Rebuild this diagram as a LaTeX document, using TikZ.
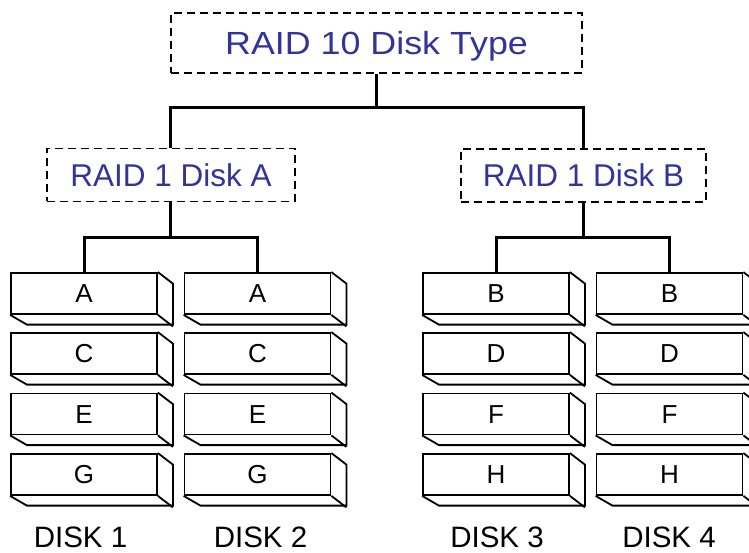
\documentclass[tikz,border=0pt]{standalone}
\usepackage{fontspec}
\setmainfont{Liberation Sans}
\definecolor{raidblue}{RGB}{51,51,153}
\begin{document}
\begin{tikzpicture}[x=1pt,y=-1pt,
  dashbox/.style={draw, dash pattern=on 8pt off 5pt, line width=1.7pt, inner sep=0pt,
    text=raidblue, text depth=0pt},
  front/.style={draw, line width=1.8pt, inner sep=0pt, minimum width=146pt, minimum height=41pt,
    font=\fontsize{26}{30}\selectfont, text height=18.6pt, text depth=0pt},
  side/.style={line width=1.8pt, line join=miter},
  link/.style={line width=3pt},
  disklabel/.style={inner sep=0pt, font=\fontsize{29.5}{34}\selectfont, text height=21.1pt, text depth=0pt}
]
\useasboundingbox (0,0) rectangle (749,553);

% top and middle boxes
\node[dashbox, minimum width=411pt, minimum height=60pt, font=\fontsize{32}{40}\selectfont, text height=22.9pt] (top) at (376.5,43) {\scalebox{1.12}[1]{RAID 10 Disk Type}};
\node[dashbox, minimum width=248pt, minimum height=53pt, font=\fontsize{31.5}{38}\selectfont, text height=22.6pt] (subA) at (171,175) {RAID 1 Disk A};
\node[dashbox, minimum width=245pt, minimum height=53pt, font=\fontsize{31.5}{38}\selectfont, text height=22.6pt] (subB) at (583.5,175.5) {RAID 1 Disk B};

% disk boxes
\def\rowys{293.5/1,353.5/2,414/3,474.5/4}
\foreach \cx/\col/\la/\lb/\lc/\ld in {84/d1/A/C/E/G, 257.5/d2/A/C/E/G, 496/d3/B/D/F/H, 669.5/d4/B/D/F/H}{
  \foreach \ry/\r in \rowys{
    \ifcase\r\or\def\lt{\la}\or\def\lt{\lb}\or\def\lt{\lc}\or\def\lt{\ld}\fi
    \node[front] (\col\r) at (\cx,\ry) {\lt};
    \draw[side] (\col\r.north east) -- ++(15,11.5) -- ++(0,41) -- ++(-146,0) -- (\col\r.south west);
    \draw[side] (\col\r.south east) -- ++(15,11.5);
  }
}

% connectors
\coordinate (j0) at (376.5,108);
\coordinate (jA) at (170,238);
\coordinate (jB) at (583,238);
\draw[link] (top.south) -- (j0);
\draw[link] (subA.north -| 170,0) |- (j0) -| (subB.north -| 583,0);
\draw[link] (subA.south -| jA) -- (jA);
\draw[link] (d11.north) |- (jA) -| (d21.north);
\draw[link] (subB.south -| jB) -- (jB);
\draw[link] (d31.north) |- (jB) -| (d41.north);

% disk labels
\node[disklabel] (l1) at (80.5,537) {DISK 1};
\node[disklabel] (l2) at (260.5,537) {DISK 2};
\node[disklabel] (l3) at (497,537) {DISK 3};
\node[disklabel] (l4) at (669,537) {DISK 4};
\end{tikzpicture}
\end{document}
